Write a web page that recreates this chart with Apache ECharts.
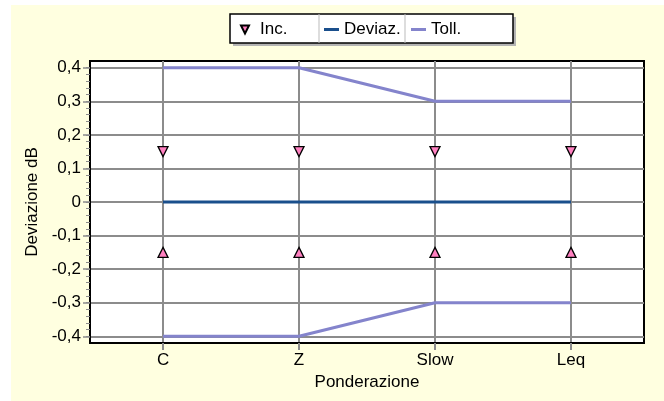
<!DOCTYPE html>
<html>
<head>
<meta charset="utf-8">
<script src="https://cdn.jsdelivr.net/npm/echarts@6/dist/echarts.min.js"></script>
<style>
  html, body { margin: 0; padding: 0; background: #fff; }
  #chart { width: 664px; height: 401px; }
</style>
</head>
<body>
<div id="chart"></div>
<script>
// dati
var categories = ['C', 'Z', 'Slow', 'Leq'];
var incSopra = [0.15, 0.15, 0.15, 0.15];
var incSotto = [-0.15, -0.15, -0.15, -0.15];
var deviaz = [0, 0, 0, 0];
var tollSopra = [0.4, 0.4, 0.3, 0.3];
var tollSotto = [-0.4, -0.4, -0.3, -0.3];
var yTicks = [-0.4, -0.3, -0.2, -0.1, 0, 0.1, 0.2, 0.3, 0.4];

// tacche minori ogni 0,02
var yMinor = [];
for (var k = -20; k <= 20; k++) {
    yMinor.push(k / 50);
}

function pairs(arr) {
    var out = [];
    for (var i = 0; i < arr.length; i++) {
        out.push([i, arr[i]]);
    }
    return out;
}

var font = "'Liberation Sans', Arial, sans-serif";
var fs = 17;
var grigio = '#8c8c8c';
var rosa = '#ff80c0';
var blu = '#1a4f8c';
var lilla = '#8484cc';

var myChart = echarts.init(document.getElementById('chart'));

var option = {
    backgroundColor: '#fff',
    animation: false,
    textStyle: { fontFamily: font },
    graphic: [
        // sfondo giallo
        { type: 'rect', z: -10, shape: { x: 11, y: 5, width: 653, height: 396 }, style: { fill: '#ffffe0' } },
        // riquadro della legenda con ombra
        { type: 'rect', z: 2, shape: { x: 233, y: 17, width: 283, height: 29 }, style: { fill: '#b4b4b4' } },
        { type: 'rect', z: 3, shape: { x: 230, y: 14, width: 283, height: 29 }, style: { fill: '#fff', stroke: '#000', lineWidth: 1.5 } },
        { type: 'line', z: 3, shape: { x1: 319, y1: 14, x2: 319, y2: 43 }, style: { stroke: '#bbb', lineWidth: 1 } },
        { type: 'line', z: 3, shape: { x1: 405, y1: 14, x2: 405, y2: 43 }, style: { stroke: '#bbb', lineWidth: 1 } }
    ],
    legend: [{
        left: 240, top: 21, padding: 0,
        itemWidth: 8, itemHeight: 9,
        textStyle: { fontSize: fs, color: '#000', fontFamily: font, padding: [0, 0, 0, 6] },
        data: [{ name: 'Inc.', icon: 'path://M0,0 L10,0 L5,10 Z' }]
    }, {
        left: 324, top: 21, padding: 0,
        itemWidth: 15, itemHeight: 3,
        textStyle: { fontSize: fs, color: '#000', fontFamily: font },
        data: [{ name: 'Deviaz.', icon: 'rect' }]
    }, {
        left: 411, top: 21, padding: 0,
        itemWidth: 15, itemHeight: 3,
        textStyle: { fontSize: fs, color: '#000', fontFamily: font },
        data: [{ name: 'Toll.', icon: 'rect' }]
    }],
    grid: {
        left: 90, top: 61, width: 554, height: 282,
        show: true, backgroundColor: '#fff', borderColor: '#000', borderWidth: 2
    },
    xAxis: {
        type: 'value',
        min: -0.537, max: 3.537,
        name: 'Ponderazione',
        nameLocation: 'middle',
        nameGap: 30,
        nameTextStyle: { fontSize: fs, color: '#000', fontFamily: font },
        axisLine: { show: true, onZero: false, lineStyle: { color: '#000', width: 2 } },
        axisTick: { show: true, length: 7, customValues: [0, 1, 2, 3], lineStyle: { color: grigio, width: 2 } },
        axisLabel: {
            customValues: [0, 1, 2, 3], margin: 9,
            fontSize: fs, color: '#000', fontFamily: font,
            formatter: function(v) { return categories[Math.round(v)]; }
        },
        splitLine: { show: true, lineStyle: { color: grigio, width: 2 } }
    },
    yAxis: [{
        type: 'value',
        min: -0.42, max: 0.42,
        name: 'Deviazione dB',
        nameLocation: 'middle',
        nameRotate: 90,
        nameGap: 44,
        nameTextStyle: { fontSize: fs, color: '#000', fontFamily: font },
        axisLine: { show: true, onZero: false, lineStyle: { color: '#000', width: 2 } },
        axisTick: { show: true, length: 7, customValues: yTicks, lineStyle: { color: grigio, width: 1.5 } },
        axisLabel: {
            customValues: yTicks, margin: 9,
            fontSize: fs, color: '#000', fontFamily: font,
            formatter: function(v) {
                if (Math.abs(v) < 1e-9) return '0';
                return v.toFixed(1).replace('.', ',');
            }
        },
        splitLine: { show: true, lineStyle: { color: grigio, width: 2 } }
    }, {
        type: 'value',
        min: -0.42, max: 0.42,
        position: 'left',
        axisLine: { show: false, onZero: false },
        axisTick: { show: true, length: 4, customValues: yMinor, lineStyle: { color: grigio, width: 1 } },
        axisLabel: { show: false },
        splitLine: { show: false }
    }],
    series: [{
        name: 'Toll.',
        type: 'line',
        symbol: 'none',
        lineStyle: { color: lilla, width: 3 },
        itemStyle: { color: lilla },
        data: pairs(tollSopra)
    }, {
        name: 'Toll.',
        type: 'line',
        symbol: 'none',
        lineStyle: { color: lilla, width: 3 },
        itemStyle: { color: lilla },
        data: pairs(tollSotto)
    }, {
        name: 'Deviaz.',
        type: 'line',
        symbol: 'none',
        lineStyle: { color: blu, width: 3 },
        itemStyle: { color: blu },
        data: pairs(deviaz)
    }, {
        name: 'Inc.',
        type: 'scatter',
        symbol: 'triangle',
        symbolRotate: 180,
        symbolSize: [10, 10],
        itemStyle: { color: rosa, borderColor: '#000', borderWidth: 1.3, opacity: 1 },
        z: 5,
        data: pairs(incSopra)
    }, {
        name: 'Inc.',
        type: 'scatter',
        symbol: 'triangle',
        symbolSize: [10, 10],
        itemStyle: { color: rosa, borderColor: '#000', borderWidth: 1.3, opacity: 1 },
        z: 5,
        data: pairs(incSotto)
    }]
};

myChart.setOption(option);
</script>
</body>
</html>
